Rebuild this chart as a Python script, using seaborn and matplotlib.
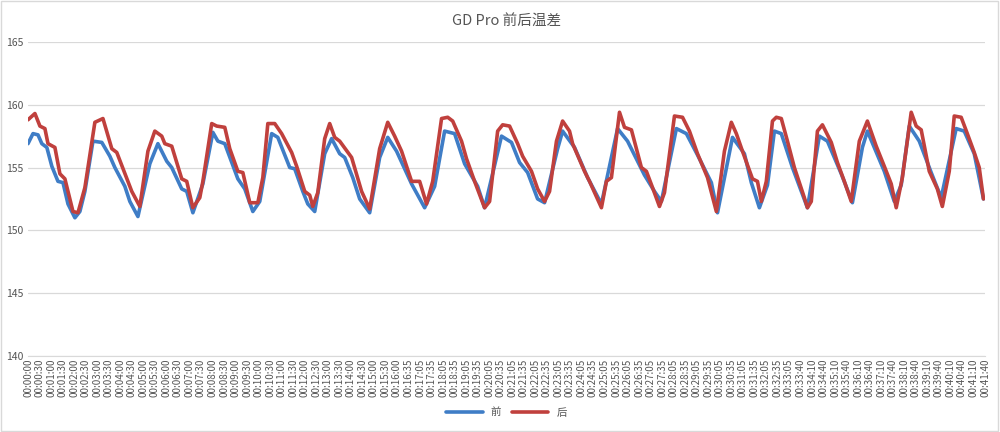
import matplotlib
matplotlib.use("Agg")
import matplotlib.pyplot as plt
import seaborn as sns
import pandas as pd

sns.set_style("white")
plt.rcParams['font.family'] = ['Noto Sans CJK SC', 'DejaVu Sans']

# tick labels (category axis)
tick_labels = ([f"00:{m:02d}:{s:02d}" for m in range(0, 16) for s in (0, 30)] + ["00:16:00"]
               + [f"00:{(995 + 30*i)//60:02d}:{(995 + 30*i)%60:02d}" for i in range(34)]
               + [f"00:{(2020 + 30*i)//60:02d}:{(2020 + 30*i)%60:02d}" for i in range(17)])

front_t = [0,13,26,36,49,62,78,91,104,122,135,148,169,192,213,226,252,265,286,317,338,361,374,400,413,429,455,481,494,512,546,564,585,603,634,650,681,694,715,728,746,772,790,811,824,845,863,889,915,936,959,998,1032,1058,1084,1110,1136,1170,1188,1232,1258,1279,1300,1326,1344,1378,1391,1422,1456,1492,1534,1560,1604,1630,1648,1687,1713,1742,1778,1794,1833,1864,1882,1903,1924,1942,1960,1989,2028,2059,2080,2116,2145,2171,2184,2228,2254,2272,2293,2319,2350,2376,2415,2436,2462,2486]
front_v = [156.9,157.7,157.6,156.9,156.6,155.1,153.9,153.8,152.1,151.0,151.5,153.1,157.1,157.0,155.9,155.0,153.5,152.3,151.1,155.3,156.9,155.5,155.0,153.3,153.1,151.4,153.7,157.8,157.1,156.9,154.1,153.3,151.5,152.3,157.7,157.4,155.0,154.9,153.1,152.1,151.5,156.1,157.3,156.1,155.8,154.2,152.5,151.4,155.8,157.4,156.3,153.7,151.8,153.5,157.9,157.7,155.3,153.5,151.8,157.5,157.0,155.4,154.6,152.5,152.2,156.5,157.9,156.6,154.2,152.1,158.1,157.1,154.4,153.1,152.3,158.1,157.7,156.0,153.8,151.4,157.4,156.1,153.8,151.8,153.6,157.9,157.7,155.0,151.8,157.5,157.1,154.5,152.2,156.6,157.9,154.7,152.3,153.6,158.3,157.1,154.6,152.6,158.1,157.9,156.1,152.5]

rear_t = [0,18,31,44,52,70,83,96,117,130,148,174,195,218,231,270,291,312,330,348,356,374,400,413,429,447,455,478,491,512,525,546,559,577,598,611,624,642,660,686,699,720,733,741,754,772,785,798,811,842,868,889,915,936,954,972,998,1019,1037,1053,1076,1092,1105,1128,1141,1162,1188,1201,1222,1235,1253,1274,1287,1310,1326,1344,1357,1375,1391,1409,1417,1448,1461,1492,1505,1518,1539,1552,1570,1596,1609,1625,1643,1656,1682,1703,1721,1742,1768,1791,1812,1830,1843,1859,1885,1898,1908,1921,1937,1947,1960,1976,1994,2020,2028,2038,2054,2067,2090,2106,2124,2142,2163,2184,2207,2228,2246,2259,2275,2298,2311,2324,2345,2366,2379,2397,2410,2428,2444,2462,2475,2486]
rear_v = [158.8,159.3,158.3,158.1,156.9,156.6,154.5,154.1,151.5,151.4,153.4,158.6,158.9,156.5,156.2,153.1,151.9,156.3,157.9,157.5,156.9,156.7,154.1,153.9,151.8,152.6,153.9,158.5,158.3,158.2,156.5,154.7,154.6,152.2,152.2,154.2,158.5,158.5,157.7,156.2,155.1,153.1,152.8,151.9,153.0,157.3,158.5,157.4,157.1,155.8,153.1,151.7,156.5,158.6,157.5,156.3,153.9,153.9,152.1,153.9,158.9,159.0,158.7,157.1,155.7,153.9,151.8,152.3,157.9,158.4,158.3,156.9,155.9,154.7,153.3,152.3,153.1,157.1,158.7,157.9,156.9,154.7,153.9,151.8,153.9,154.2,159.4,158.2,158.0,155.0,154.7,153.4,151.9,153.0,159.1,159.0,157.9,156.1,154.2,151.5,156.3,158.6,157.7,156.3,154.1,153.9,152.3,153.9,158.7,159.0,158.9,157.1,155.0,152.6,151.8,152.3,157.9,158.4,157.0,155.4,153.9,152.3,157.1,158.7,156.7,155.1,153.7,151.8,154.2,159.4,158.3,158.0,154.7,153.3,151.9,154.7,159.1,159.0,157.7,156.2,155.0,152.5]

fig = plt.figure(figsize=(10, 4.32), dpi=100)
ax = fig.add_axes([0.028, 0.176, 0.957, 0.727])
sns.lineplot(x=front_t, y=front_v, ax=ax, color="#3F7DC6", lw=2.6, label="前")
sns.lineplot(x=rear_t, y=rear_v, ax=ax, color="#C0403D", lw=2.6, label="后")

ax.set_ylim(140, 165)
ax.set_yticks(range(140, 166, 5))
ax.set_xlim(0, 30 * (len(tick_labels) - 1))
ax.set_xticks([30 * i for i in range(len(tick_labels))])
ax.set_xticklabels(tick_labels, rotation=90, fontsize=7, color="#555555")
ax.tick_params(axis='y', labelsize=7.5, colors="#555555", length=0)
ax.tick_params(axis='x', length=0, pad=2)
ax.grid(axis='y', color="#d9d9d9", lw=0.9)
for s in ax.spines.values():
    s.set_visible(False)
ax.spines['bottom'].set_visible(True)
ax.spines['bottom'].set_color("#d9d9d9")
ax.set_xlabel("")
ax.set_ylabel("")
ax.set_title("GD Pro 前后温差", fontsize=10.5, color="#555555", pad=12)
ax.legend(loc="center", bbox_to_anchor=(0.5, -0.18), ncol=2, frameon=False,
          fontsize=7.5, handlelength=3.5, columnspacing=1.0, labelcolor="#555555",
          borderpad=0.1)
fig.add_artist(plt.Rectangle((0.001, 0.002), 0.997, 0.995, transform=fig.transFigure,
                             fill=False, edgecolor="#d9d9d9", lw=1))
fig.savefig("out.png", dpi=100)
